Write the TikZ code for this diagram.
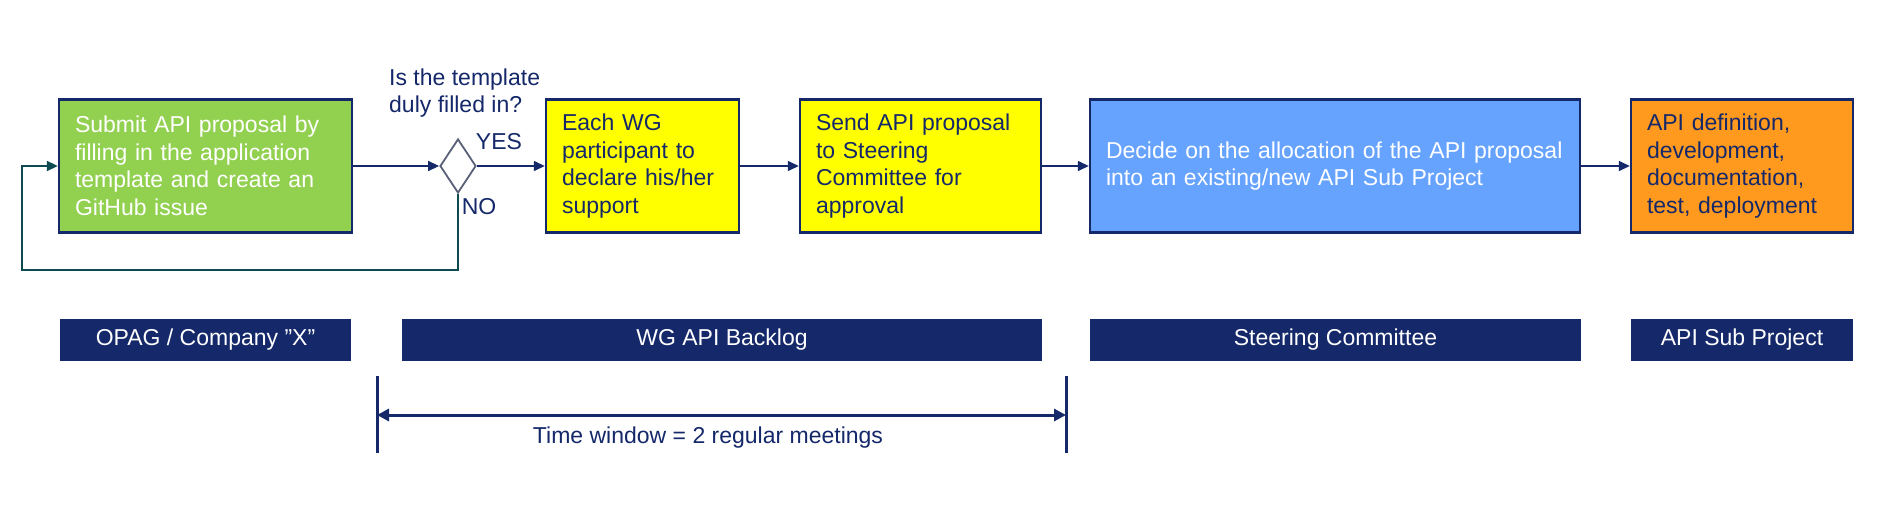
\documentclass[tikz,border=0pt]{standalone}
\usepackage{fontspec}
\setmainfont{Liberation Sans}
\usetikzlibrary{arrows.meta,shapes.geometric}
\definecolor{navy}{RGB}{20,40,106}
\definecolor{gfill}{RGB}{146,208,80}
\definecolor{bfill}{RGB}{102,163,255}
\definecolor{ofill}{RGB}{255,154,30}
\definecolor{yfill}{RGB}{255,255,0}
\definecolor{teal}{RGB}{14,75,80}
\definecolor{dgray}{RGB}{90,96,120}
\tikzset{
  procbox/.style={draw=navy, line width=2.4pt, minimum height=133, inner xsep=16, inner ysep=0, align=left, anchor=center},
  lbl/.style={fill=navy, text=white, minimum height=42, inner sep=0, anchor=center},
  conn/.style={draw=navy, line width=1.4pt, -{Triangle[length=11pt,width=10pt]}},
  loopconn/.style={draw=teal, line width=2pt, -{Triangle[length=11pt,width=10pt]}},
  txt/.style={text=navy, inner sep=0},
}
\begin{document}
\begin{tikzpicture}[x=1pt,y=-1pt]
\fontsize{23}{27.5}\selectfont
\useasboundingbox[fill=white] (0,0) rectangle (1881,511);
% process boxes
\node[procbox, fill=gfill, text=white, minimum width=293, text width=261] (green) at (205.5,166) {Submit API proposal by\\filling in the application\\template and create an\\GitHub issue};
\node[draw=dgray, line width=1.8pt, fill=white, diamond, minimum width=36, minimum height=54, inner sep=0] (dia) at (458,166) {};
\node[procbox, fill=yfill, text=navy, minimum width=193, text width=161] (y1) at (642.5,166) {Each WG\\participant to\\declare his/her\\support};
\node[procbox, fill=yfill, text=navy, minimum width=241, text width=209] (y2) at (920.5,166) {Send API proposal\\to Steering\\Committee for\\approval};
\node[procbox, fill=bfill, text=white, minimum width=490, text width=458] (blue) at (1335,166) {Decide on the allocation of the API proposal\\into an existing/new API Sub Project};
\node[procbox, fill=ofill, text=navy, minimum width=222, text width=190] (orange) at (1742,166) {API definition,\\development,\\documentation,\\test, deployment};
% decision texts
\node[txt, anchor=west, align=left] (q) at (389,93) {Is the template\\duly filled in?};
\node[txt] (yes) at (499,142) {YES};
\node[txt] (no) at (479,207) {NO};
% connectors
\draw[conn] (green.east) -- (dia.west);
\draw[conn] (dia.east) -- (y1.west);
\draw[conn] (y1.east) -- (y2.west);
\draw[conn] (y2.east) -- (blue.west);
\draw[conn] (blue.east) -- (orange.west);
\coordinate (lp) at (22,270);
\draw[loopconn] (dia.south) |- (lp) |- (green.west);
% lane labels
\node[lbl, minimum width=291] (l1) at (205.5,340) {OPAG / Company ”X”};
\node[lbl, minimum width=640] (l2) at (722,340) {WG API Backlog};
\node[lbl, minimum width=491] (l3) at (1335.5,340) {Steering Committee};
\node[lbl, minimum width=222] (l4) at (1742,340) {API Sub Project};
% time window
\coordinate (t1a) at (377,376);
\coordinate (t1b) at (377,453);
\coordinate (t2a) at (1066,376);
\coordinate (t2b) at (1066,453);
\coordinate (w1) at (377,415);
\coordinate (w2) at (1066,415);
\draw[navy, line width=3pt] (t1a) -- (t1b);
\draw[navy, line width=3pt] (t2a) -- (t2b);
\draw[navy, line width=3pt, {Triangle[length=12pt,width=12pt]}-{Triangle[length=12pt,width=12pt]}] (w1) -- (w2);
\node[txt] (tw) at (708,438) {Time window = 2 regular meetings};
\end{tikzpicture}
\end{document}
